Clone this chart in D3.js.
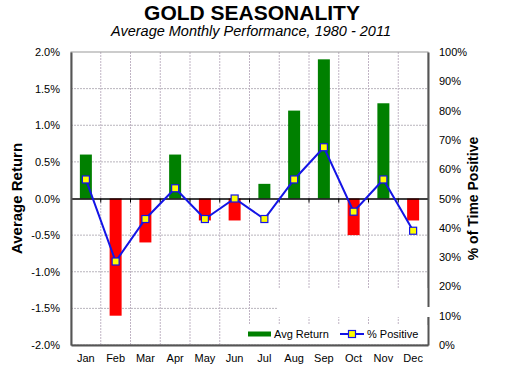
<!DOCTYPE html>
<html>
<head>
<meta charset="utf-8">
<script src="https://cdn.jsdelivr.net/npm/d3@7"></script>
<style>
  body { margin: 0; background: #fff; }
  svg { display: block; font-family: Arial, "Liberation Sans", sans-serif; }
</style>
</head>
<body>
<div id="chart"></div>
<script>
const months = ['Jan', 'Feb', 'Mar', 'Apr', 'May', 'Jun', 'Jul', 'Aug', 'Sep', 'Oct', 'Nov', 'Dec'];
const avgReturn = [0.6, -1.6, -0.6, 0.6, -0.3, -0.3, 0.2, 1.2, 1.9, -0.5, 1.3, -0.3];
const pctPositive = [56.5, 28.5, 43, 53.5, 43, 50, 43, 56.5, 67.5, 45.5, 56.5, 39];
const leftTicks = [-2, -1.5, -1, -0.5, 0, 0.5, 1, 1.5, 2];
const rightTicks = [0, 10, 20, 30, 40, 50, 60, 70, 80, 90, 100];

const W = 515, H = 376;
const margin = { top: 52, right: 87, bottom: 31, left: 71 };
const width = W - margin.left - margin.right;
const height = H - margin.top - margin.bottom;

const svg = d3.select('#chart').append('svg').attr('width', W).attr('height', H);

svg.append('text')
  .attr('x', 252).attr('y', 20)
  .attr('text-anchor', 'middle')
  .attr('font-size', 21).attr('font-weight', 'bold')
  .text('GOLD SEASONALITY');

svg.append('text')
  .attr('x', 251).attr('y', 36)
  .attr('text-anchor', 'middle')
  .attr('font-size', 14.5).attr('font-style', 'italic')
  .text('Average Monthly Performance, 1980 - 2011');

const g = svg.append('g').attr('transform', `translate(${margin.left},${margin.top})`);

const x = d3.scaleBand().domain(months).range([0, width]).padding(0);
const y = d3.scaleLinear().domain([-2, 2]).range([height, 0]);
const y2 = d3.scaleLinear().domain([0, 100]).range([height, 0]);

// grid
g.append('g')
  .selectAll('line')
  .data(leftTicks.filter((d) => d !== 0 && d !== 2))
  .enter().append('line')
  .attr('x1', 0).attr('x2', width)
  .attr('y1', (d) => y(d)).attr('y2', (d) => y(d))
  .attr('stroke', '#b8b4bc').attr('stroke-dasharray', '2,1');

g.append('g')
  .selectAll('line')
  .data(months.slice(1))
  .enter().append('line')
  .attr('x1', (d) => x(d)).attr('x2', (d) => x(d))
  .attr('y1', 0).attr('y2', height)
  .attr('stroke', '#c0b4c4').attr('stroke-dasharray', '2,1');

// frame
g.append('rect')
  .attr('width', width).attr('height', height)
  .attr('fill', 'none').attr('stroke', '#999').attr('stroke-width', 1);

// bars
const barW = 12;
g.append('g')
  .selectAll('rect')
  .data(months)
  .enter().append('rect')
  .attr('x', (d) => x(d) + (x.bandwidth() - barW) / 2)
  .attr('width', barW)
  .attr('y', (d, i) => y(Math.max(0, avgReturn[i])))
  .attr('height', (d, i) => Math.abs(y(avgReturn[i]) - y(0)))
  .attr('fill', (d, i) => (avgReturn[i] >= 0 ? '#008000' : '#ff0000'));

// zero line with ticks
g.append('g')
  .attr('transform', `translate(0,${y(0)})`)
  .call(d3.axisBottom(x).tickSize(0).tickFormat(''))
  .call((a) => a.select('.domain').attr('stroke', '#000').attr('stroke-width', 1.5));
g.append('g')
  .selectAll('line')
  .data(months.slice(1))
  .enter().append('line')
  .attr('x1', (d) => x(d)).attr('x2', (d) => x(d))
  .attr('y1', y(0)).attr('y2', y(0) + 4)
  .attr('stroke', '#000');

// white patches seen in the original image
g.append('rect').attr('x', 206).attr('y', 236).attr('width', 160).attr('height', 29).attr('fill', '#fff');
g.append('rect').attr('x', 178).attr('y', 273).attr('width', 180).attr('height', 19).attr('fill', '#fff');

// line of % positive
const line = d3.line()
  .x((d, i) => x(months[i]) + x.bandwidth() / 2)
  .y((d) => y2(d));

g.append('path')
  .datum(pctPositive)
  .attr('d', line)
  .attr('fill', 'none')
  .attr('stroke', '#1414e6')
  .attr('stroke-width', 2);

g.append('g')
  .selectAll('rect')
  .data(pctPositive)
  .enter().append('rect')
  .attr('x', (d, i) => x(months[i]) + x.bandwidth() / 2 - 3.5)
  .attr('y', (d) => y2(d) - 3.5)
  .attr('width', 7).attr('height', 7)
  .attr('fill', '#ffff00')
  .attr('stroke', '#1414e6').attr('stroke-width', 1.2);

// axes
const leftAxis = g.append('g')
  .call(d3.axisLeft(y).tickValues(leftTicks).tickSize(0).tickPadding(11).tickFormat((d) => d.toFixed(1) + '%'));
leftAxis.select('.domain').attr('stroke', '#555').attr('stroke-width', 2);
leftAxis.selectAll('text').attr('font-size', 11).attr('fill', '#000').attr('font-family', 'Arial, "Liberation Sans", sans-serif');

const bottomAxis = g.append('g')
  .attr('transform', `translate(0,${height})`)
  .call(d3.axisBottom(x).tickSize(0).tickPadding(9));
bottomAxis.select('.domain').attr('stroke', '#555').attr('stroke-width', 2);
bottomAxis.selectAll('text').attr('font-size', 11).attr('fill', '#000').attr('font-family', 'Arial, "Liberation Sans", sans-serif');

const rightAxis = g.append('g')
  .attr('transform', `translate(${width},0)`)
  .call(d3.axisRight(y2).tickValues(rightTicks).tickSize(0).tickPadding(11).tickFormat((d) => d + '%'));
rightAxis.select('.domain').attr('stroke', '#555').attr('stroke-width', 2);
rightAxis.selectAll('text').attr('font-size', 11).attr('fill', '#000').attr('font-family', 'Arial, "Liberation Sans", sans-serif');

// gap in right axis line
g.append('rect').attr('x', width - 2).attr('y', 255).attr('width', 4).attr('height', 10).attr('fill', '#fff');

// axis titles
svg.append('text')
  .attr('transform', `translate(22,${margin.top + height / 2}) rotate(-90)`)
  .attr('text-anchor', 'middle')
  .attr('font-size', 15).attr('font-weight', 'bold')
  .text('Average Return');

svg.append('text')
  .attr('transform', `translate(478,${margin.top + height / 2}) rotate(-90)`)
  .attr('text-anchor', 'middle')
  .attr('font-size', 14).attr('font-weight', 'bold')
  .text('% of Time Positive');

// legend
const legend = g.append('g').attr('transform', `translate(177,${height - 11})`);
legend.append('rect').attr('x', 0).attr('y', -2.5).attr('width', 23).attr('height', 5).attr('fill', '#008000');
legend.append('text').attr('x', 26).attr('y', 4).attr('font-size', 11).text('Avg Return');
legend.append('line').attr('x1', 92).attr('x2', 116).attr('y1', 0).attr('y2', 0).attr('stroke', '#1414e6').attr('stroke-width', 2);
legend.append('rect').attr('x', 100.5).attr('y', -3.5).attr('width', 7).attr('height', 7)
  .attr('fill', '#ffff00').attr('stroke', '#1414e6').attr('stroke-width', 1.2);
legend.append('text').attr('x', 119).attr('y', 4).attr('font-size', 11).text('% Positive');
</script>
</body>
</html>
